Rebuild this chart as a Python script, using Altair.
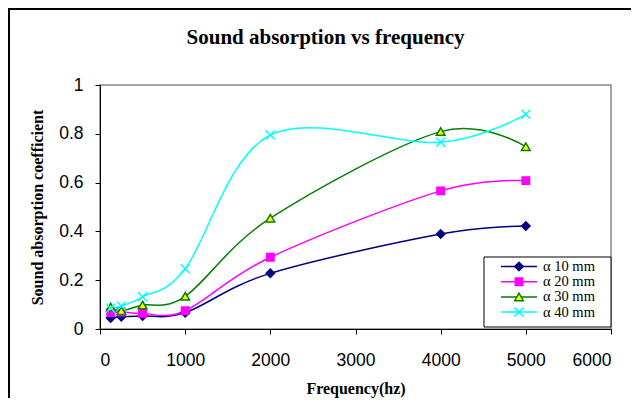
import altair as alt
import pandas as pd

freq = [125, 250, 500, 1000, 2000, 4000, 5000]
a10 = [0.045, 0.05, 0.053, 0.067, 0.228, 0.389, 0.422]
a20 = [0.067, 0.07, 0.064, 0.075, 0.294, 0.566, 0.608]
a30 = [0.09, 0.075, 0.098, 0.134, 0.454, 0.809, 0.747]
a40 = [0.085, 0.094, 0.132, 0.247, 0.795, 0.765, 0.88]
series_names = ["α 10 mm", "α 20 mm", "α 30 mm", "α 40 mm"]
x_ticks = [0, 1000, 2000, 3000, 4000, 5000, 6000]
y_ticks = [0, 0.2, 0.4, 0.6, 0.8, 1]
title_text = "Sound absorption vs frequency"

rows = []
for name, vals in zip(series_names, [a10, a20, a30, a40]):
    for f, v in zip(freq, vals):
        rows.append({"freq": f, "value": v, "series": name})
df = pd.DataFrame(rows)
legend_df = pd.DataFrame({"series": series_names})

line_colors = ["#000080", "#FF00FF", "#008000", "#00FFFF"]
fill_colors = ["#000080", "#FF00FF", "#FFFF00", "transparent"]
shapes = ["diamond", "square", "triangle-up", "M-1,-1L1,1M1,-1L-1,1"]
sizes = [70, 55, 75, 81]

xenc = alt.X(
    "freq:Q",
    scale=alt.Scale(domain=[0, 6000], nice=False),
    axis=alt.Axis(
        values=x_ticks, format="d", title="Frequency(hz)", grid=False,
        titleX=255.5, titleY=64, titleBaseline="alphabetic", titleAnchor="middle",
    ),
)
yenc = alt.Y(
    "value:Q",
    scale=alt.Scale(domain=[0, 1], nice=False),
    axis=alt.Axis(
        values=y_ticks, title="Sound absorption coefficient", grid=False,
        titleX=-62.5, titleY=122, titleBaseline="middle", titleAngle=270,
        labelExpr="datum.value == 0 ? '0' : datum.value == 1 ? '1' : format(datum.value, '.1f')",
    ),
)

lines = alt.Chart(df).mark_line(interpolate="cardinal", strokeWidth=1.5).encode(
    x=xenc,
    y=yenc,
    color=alt.Color("series:N", scale=alt.Scale(domain=series_names, range=line_colors), legend=None),
    order=alt.Order("freq:Q"),
)

point_layers = []
for name, shp, fc, sc, sz in zip(series_names, shapes, fill_colors, line_colors, sizes):
    point_layers.append(
        alt.Chart(df).transform_filter(alt.datum.series == name).mark_point(
            size=sz, opacity=1, strokeWidth=1.5, shape=shp, fill=fc, stroke=sc, filled=False
        ).encode(x="freq:Q", y="value:Q")
    )

# legend (manual, Excel style)
legend_box = alt.Chart(legend_df).transform_filter(alt.datum.series == series_names[0]).mark_rect(
    fill="white", stroke="black", strokeWidth=1
).encode(x=alt.value(384), x2=alt.value(511), y=alt.value(172), y2=alt.value(242))

legend_layers = [legend_box]
for i, (name, shp, fc, sc, sz) in enumerate(zip(series_names, shapes, fill_colors, line_colors, sizes)):
    ry = 181.5 + i * 15.2
    sub = alt.Chart(legend_df).transform_filter(alt.datum.series == name)
    legend_layers.append(
        sub.mark_rule(color=sc, strokeWidth=1.5).encode(x=alt.value(401), x2=alt.value(437), y=alt.value(ry))
    )
    legend_layers.append(
        sub.mark_point(size=sz, opacity=1, strokeWidth=1.5, shape=shp, fill=fc, stroke=sc, filled=False)
        .encode(x=alt.value(419), y=alt.value(ry))
    )
    legend_layers.append(
        sub.mark_text(align="left", baseline="middle", font="Liberation Serif", fontSize=14.5, color="black")
        .encode(x=alt.value(443), y=alt.value(ry + 0.5), text="series:N")
    )

title_layer = alt.Chart(legend_df).transform_filter(alt.datum.series == series_names[0]).mark_text(
    text=title_text, font="Liberation Serif", fontSize=21, fontWeight="bold", color="black",
    align="center", baseline="alphabetic",
).encode(x=alt.value(225.5), y=alt.value(-40.7))

frame_top = alt.Chart(legend_df).transform_filter(alt.datum.series == series_names[0]).mark_rule(
    color="black", strokeWidth=2).encode(x=alt.value(-92), x2=alt.value(560), y=alt.value(-76))
frame_left = alt.Chart(legend_df).transform_filter(alt.datum.series == series_names[0]).mark_rule(
    color="black", strokeWidth=2).encode(x=alt.value(-91), y=alt.value(-77), y2=alt.value(330))

chart = alt.layer(
    frame_top, frame_left, title_layer, lines, *point_layers, *legend_layers
).properties(
    width=511,
    height=244,
    autosize=alt.AutoSizeParams(type="none"),
    padding={"left": 92, "top": 77, "right": 20, "bottom": 69},
).configure_view(
    stroke="#888888", strokeWidth=1.5
).configure_axis(
    domainColor="black", tickColor="black", tickSize=5, domainWidth=1,
    labelFont="Liberation Sans", labelFontSize=17.5, labelColor="black",
    titleFont="Liberation Serif", titleFontSize=16, titleFontWeight="bold", titleColor="black",
).configure_axisX(labelPadding=17).configure_axisY(labelPadding=12)

chart.save("out.html", embed_options={"renderer": "svg", "actions": False})
